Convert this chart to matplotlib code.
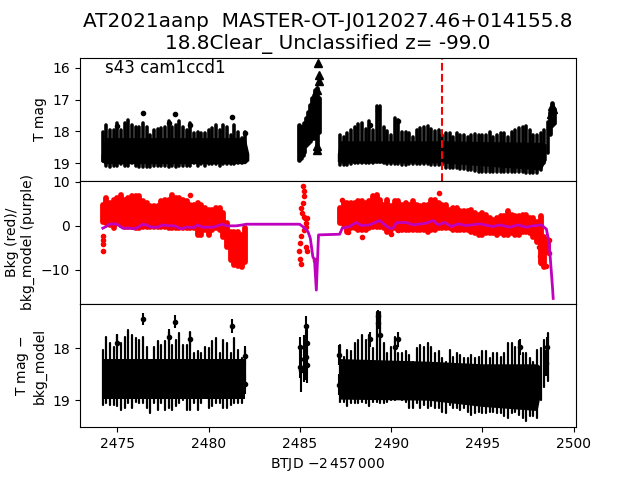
import matplotlib
matplotlib.use('Agg')
import matplotlib.pyplot as plt

# times of the three observing stretches (BTJD - 2457000)
t_a = [2474.2, 2474.4, 2474.6, 2474.8, 2475.0, 2475.2, 2475.4, 2475.6, 2475.8, 2476.0,
       2476.2, 2476.4, 2476.6, 2476.8, 2477.0, 2477.2, 2477.4, 2477.6, 2477.8, 2478.0,
       2478.2, 2478.4, 2478.6, 2478.8, 2479.0, 2479.2, 2479.4, 2479.6, 2479.8, 2480.0,
       2480.2, 2480.4, 2480.6, 2480.8, 2481.0, 2481.2, 2481.4, 2481.6, 2481.8, 2482.0]
t_c = [2487.2, 2487.4, 2487.6, 2487.8, 2488.0, 2488.2, 2488.4, 2488.6, 2488.8, 2489.0,
       2489.2, 2489.4, 2489.6, 2489.8, 2490.0, 2490.2, 2490.4, 2490.6, 2490.8, 2491.0,
       2491.2, 2491.4, 2491.6, 2491.8, 2492.0, 2492.2, 2492.4, 2492.6, 2492.8, 2493.0,
       2493.2, 2493.4, 2493.6, 2493.8, 2494.0, 2494.2, 2494.4, 2494.6, 2494.8, 2495.0,
       2495.2, 2495.4, 2495.6, 2495.8, 2496.0, 2496.2, 2496.4, 2496.6, 2496.8, 2497.0,
       2497.2, 2497.4, 2497.6, 2497.8, 2498.0, 2498.2, 2498.4, 2498.6]

# top panel, T mag range per time
mag_a_top = [18.01, 17.80, 17.96, 17.96, 17.75, 17.96, 17.75, 17.64, 17.80, 17.85,
             17.85, 17.75, 17.85, 18.11, 17.96, 17.92, 17.90, 17.85, 17.69, 17.85,
             17.80, 17.69, 17.85, 17.96, 17.75, 18.06, 18.01, 18.06, 18.06, 17.96,
             17.90, 17.80, 17.96, 17.80, 17.85, 18.11, 17.80, 18.01, 18.22, 18.03]
mag_a_bot = [18.95, 19.08, 19.11, 19.08, 19.08, 19.04, 19.08, 19.08, 19.00, 19.08,
             19.13, 19.13, 19.13, 19.13, 19.08, 19.08, 19.08, 19.08, 19.13, 19.08,
             19.13, 19.08, 19.08, 19.08, 19.08, 19.00, 19.08, 19.04, 19.08, 19.04,
             19.04, 19.04, 19.08, 19.04, 19.04, 19.04, 19.04, 19.00, 19.00, 18.95]
core_a_t = [2474.1, 2474.3, 2482.0, 2482.2]
core_a_top = [18.75, 18.20, 18.20, 18.70]
core_a_bot = [18.95, 19.02, 19.02, 18.92]
t_b = [2484.95, 2485.05, 2485.15, 2485.25, 2485.35, 2485.45, 2485.55, 2485.65, 2485.75, 2485.85, 2485.95, 2486.05]
mag_b_top = [17.80, 17.85, 18.22, 17.75, 17.59, 17.38, 17.17, 16.96, 16.85, 16.69, 16.64, 16.96]
mag_b_bot = [18.90, 18.85, 18.74, 18.64, 18.43, 18.38, 18.32, 18.22, 18.22, 18.11, 18.64, 18.01]
mag_c_top = [18.11, 18.17, 18.06, 17.96, 17.85, 17.78, 17.75, 17.92, 17.69, 17.96,
             17.22, 17.22, 17.85, 18.00, 18.11, 17.59, 17.65, 18.01, 18.03, 18.06,
             18.17, 17.96, 17.90, 17.85, 17.83, 17.92, 18.00, 17.96, 18.11, 18.06,
             18.06, 18.17, 18.06, 18.11, 18.11, 18.17, 18.11, 18.09, 18.11, 18.11,
             18.11, 18.01, 18.17, 18.11, 18.06, 18.06, 18.17, 18.01, 17.96, 17.90,
             17.85, 17.82, 17.96, 18.11, 18.11, 18.06, 17.95, 17.70]
mag_c_bot = [19.06, 19.06, 19.06, 19.04, 19.01, 19.01, 19.01, 19.01, 19.01, 18.99,
             18.98, 18.98, 19.01, 19.02, 19.04, 19.04, 19.04, 19.06, 19.06, 19.04,
             19.04, 19.04, 19.04, 19.04, 19.04, 19.06, 19.06, 19.06, 19.06, 19.17,
             19.17, 19.17, 19.17, 19.19, 19.19, 19.22, 19.22, 19.25, 19.27, 19.27,
             19.27, 19.27, 19.27, 19.27, 19.27, 19.27, 19.27, 19.27, 19.29, 19.29,
             19.29, 19.32, 19.32, 19.32, 19.32, 19.22, 19.01, 18.69]
core_c_t = [2487.05, 2487.2, 2492.8, 2498.2, 2498.5]
core_c_top = [18.70, 18.30, 18.30, 18.35, 18.40]
core_c_bot = [18.95, 19.00, 19.00, 19.22, 18.90]
t_rise = [2498.7, 2498.8, 2498.9]
mag_rise_top = [17.40, 17.10, 17.30]
mag_rise_bot = [18.10, 17.80, 17.75]
dot_t = [2476.39, 2478.14, 2477.80, 2481.27, 2479.00, 2474.96, 2481.97, 2488.82, 2489.30, 2490.38]
dot_mag = [17.43, 17.46, 17.75, 17.55, 17.80, 17.82, 18.06, 17.80, 17.32, 17.69]
tri_t = [2485.99, 2486.05, 2486.05, 2485.95, 2485.93, 2485.93, 2498.80, 2498.85, 2498.75]
tri_mag = [15.85, 16.22, 16.43, 16.70, 18.59, 18.45, 17.20, 17.30, 17.45]
nova_t = 2492.77

# middle panel, background range per time
bkg_a_top = [4.77, 6.28, 5.15, 5.90, 6.28, 7.04, 5.90, 6.28, 6.66, 6.66,
             6.66, 5.53, 5.15, 4.39, 4.39, 4.39, 5.53, 5.90, 5.90, 7.04,
             6.28, 6.28, 5.90, 5.53, 4.77, 4.77, 5.15, 4.77, 4.01, 3.63,
             3.63, 4.01, 4.01, 2.87, 0.60, -1.29, -1.29, -1.29, -2.05, -0.53]
bkg_a_bot = [0.98, 0.60, 0.22, -0.53, 0.60, 0.22, -0.16, -0.16, -0.16, -0.53,
             -0.53, -0.16, -0.16, -0.16, -0.16, -0.16, -0.16, -0.16, -0.53, -0.53,
             -0.53, -0.53, -0.53, -0.53, -0.53, -0.53, -2.05, -2.05, -0.91, -2.05,
             -0.91, -0.53, -0.91, -2.43, -4.70, -7.73, -8.87, -9.10, -9.40, -8.10]
bkg_c_top = [4.01, 5.15, 5.15, 5.15, 5.15, 5.53, 5.53, 5.15, 5.53, 6.66,
             7.04, 5.90, 4.77, 5.90, 4.39, 5.53, 5.53, 4.77, 5.15, 4.77,
             5.53, 4.77, 4.39, 4.77, 4.77, 5.90, 5.90, 5.15, 4.77, 4.77,
             3.63, 4.01, 4.01, 3.25, 3.25, 3.25, 3.63, 2.87, 2.50, 2.87,
             2.50, 1.74, 1.36, 1.74, 2.12, 2.12, 3.25, 2.50, 2.12, 2.12,
             2.50, 2.50, 1.74, 1.74, 0.98, 2.12, -2.43, -3.19]
bkg_c_bot = [0.60, 0.22, -1.29, -0.53, -0.53, -0.91, -0.91, -0.91, -0.53, -0.16,
             -0.16, -0.16, -0.53, -1.29, -0.91, -0.53, -0.91, -0.91, -0.91, -0.91,
             -0.91, -0.91, -0.91, -0.91, -1.29, -0.91, -0.91, -0.53, -0.53, -0.53,
             -0.53, -0.91, -0.91, -0.91, -0.91, -0.91, -1.29, -1.67, -2.05, -2.05,
             -1.67, -1.67, -1.67, -2.05, -1.67, -2.05, -2.05, -1.67, -2.05, -2.05,
             -1.29, -1.29, -1.67, -2.43, -3.57, -8.49, -9.25, -5.84]
bkg_dot_t = [2474.2, 2474.2, 2474.2, 2474.2, 2478.97, 2485.16, 2485.25, 2485.20, 2485.16, 2485.07,
             2485.13, 2485.20, 2485.30, 2485.39, 2485.35, 2485.35, 2485.25, 2485.07, 2484.98, 2485.35,
             2485.39, 2484.94, 2484.98, 2485.07, 2485.85, 2487.3, 2488.4, 2489.97, 2490.4, 2492.62,
             2487.65, 2498.1, 2498.15, 2498.2, 2498.5, 2498.65, 2498.65, 2498.5]
bkg_dot = [-2.4, -3.2, -4.0, -5.8, 7.0, 9.1, 8.0, 6.66, 5.15, 4.0,
           2.9, 2.1, 1.7, 1.7, 0.6, -0.15, -0.9, -2.4, -3.9, -4.7,
           -5.8, -5.8, -7.6, -8.6, -7.7, 5.9, -2.6, -1.85, -0.9, 7.4,
           -1.3, -4.85, -6.8, -8.5, -5.85, -3.3, -6.2, -9.1]
model_t = [2474.2, 2474.38, 2474.56, 2474.93, 2475.11, 2475.29, 2475.66, 2475.93, 2476.21, 2476.39,
           2476.57, 2476.85, 2477.21, 2477.49, 2477.85, 2478.13, 2478.49, 2478.77, 2479.22, 2479.35,
           2479.68, 2480.23, 2480.78, 2480.96, 2481.51, 2481.87, 2482.06, 2484.98, 2485.16, 2485.44,
           2485.57, 2485.71, 2485.8, 2485.9, 2486.02, 2487.18, 2487.32, 2487.72, 2488.09, 2488.37,
           2488.82, 2489.37, 2489.65, 2489.92, 2490.1, 2490.29, 2490.84, 2491.2, 2491.93, 2492.3,
           2492.57, 2492.94, 2493.3, 2493.67, 2494.12, 2494.85, 2495.58, 2495.95, 2496.5, 2496.95,
           2497.41, 2497.78, 2498.23, 2498.51, 2498.66, 2498.84, 2498.88]
model_bkg = [-0.53, -0.16, 0.37, 0.45, 0.0, -0.53, -0.53, -0.69, -0.16, 0.37,
             0.22, -0.31, -0.31, 0.22, 0.0, 0.0, -0.69, -0.31, -0.38, 0.22,
             -0.31, -0.31, 0.37, 0.0, 0.0, 0.22, 0.37, 0.37, -0.16, -1.29,
             -2.8, -7.0, -7.7, -14.55, -2.05, -1.9, -0.53, -0.16, 0.75, 0.07,
             0.22, 1.21, 0.22, -0.53, -0.53, 0.75, 0.75, 0.22, 0.6, 1.21,
             0.22, 0.75, -0.16, 0.45, 0.07, 0.45, -0.16, 0.22, -0.31, 0.22,
             -0.31, 0.0, 0.22, -0.76, -3.94, -13.8, -16.44]

# bottom panel, T mag - bkg_model range per time
sub_a_top = [18.03, 17.78, 17.90, 17.97, 17.74, 17.90, 17.78, 17.65, 17.74, 17.81,
             17.84, 17.78, 17.97, 18.26, 17.97, 17.87, 17.94, 17.87, 17.68, 17.94,
             17.84, 17.71, 17.94, 17.94, 17.68, 18.10, 18.06, 18.10, 17.97, 18.00,
             17.87, 17.81, 18.10, 17.84, 17.90, 18.10, 17.81, 18.03, 18.19, 18.03]
sub_a_bot = [19.09, 19.06, 19.09, 19.09, 19.12, 19.19, 19.15, 19.06, 19.15, 19.03,
             19.06, 19.06, 19.15, 19.25, 19.06, 19.19, 19.06, 19.19, 19.15, 19.19,
             19.12, 19.06, 18.99, 19.19, 19.19, 19.06, 19.19, 19.06, 18.96, 19.15,
             19.12, 19.06, 19.06, 19.15, 19.15, 19.09, 19.06, 19.06, 19.06, 18.74]
sub_core_a_t = [2474.2, 2482.0]
sub_core_a_top = [18.20, 18.20]
sub_core_a_bot = [18.98, 18.98]
sub_c_top = [17.94, 18.16, 18.03, 18.06, 17.90, 17.84, 17.74, 17.84, 17.74, 18.00,
             17.30, 17.30, 17.90, 18.10, 17.97, 17.78, 18.10, 18.10, 18.06, 18.13,
             18.26, 18.00, 17.94, 17.97, 17.90, 17.97, 18.10, 18.06, 18.19, 18.26,
             18.03, 18.16, 18.10, 18.13, 18.19, 18.19, 18.13, 18.19, 18.16, 18.06,
             18.06, 18.19, 18.10, 18.10, 18.16, 18.10, 17.90, 17.90, 17.97, 17.87,
             18.10, 18.10, 18.19, 18.26, 18.03, 18.00, 17.84, 17.71]
sub_c_bot = [19.03, 19.03, 19.12, 19.06, 19.06, 19.06, 19.03, 19.06, 19.12, 19.03,
             19.03, 19.06, 19.06, 19.03, 18.99, 18.99, 18.96, 18.99, 19.03, 19.15,
             19.15, 19.06, 19.15, 19.09, 19.15, 19.12, 19.15, 19.15, 19.22, 19.25,
             19.09, 19.15, 19.15, 19.19, 19.15, 19.22, 19.28, 19.25, 19.22, 19.25,
             19.25, 19.22, 19.22, 19.25, 19.25, 19.31, 19.35, 19.25, 19.22, 19.28,
             19.35, 19.41, 19.31, 19.31, 19.35, 18.99, 18.74, 18.64]
sub_core_c_t = [2487.2, 2492.0, 2495.0, 2498.0, 2498.2]
sub_core_c_top = [18.20, 18.25, 18.30, 18.30, 18.35]
sub_core_c_bot = [18.98, 19.00, 19.12, 19.20, 18.85]
sub_dot_t = [2476.39, 2478.14, 2477.82, 2481.27, 2474.96, 2479.00, 2481.97, 2481.97, 2484.98, 2484.98,
             2485.07, 2485.20, 2485.35, 2485.39, 2485.35, 2485.39, 2487.14, 2487.14, 2488.82, 2489.28,
             2489.30, 2489.37, 2490.38, 2490.20, 2498.55, 2498.51, 2497.05]
sub_dot = [17.44, 17.49, 17.78, 17.57, 17.90, 17.83, 18.15, 18.69, 17.97, 18.37,
           18.42, 18.20, 17.58, 17.90, 18.16, 18.32, 18.13, 18.70, 17.83, 17.39,
           17.52, 17.74, 17.83, 17.97, 17.98, 18.29, 17.98]
sub_dot_err = [0.12, 0.12, 0.14, 0.13, 0.17, 0.15, 0.20, 0.20, 0.19, 0.20,
               0.42, 0.45, 0.19, 0.30, 0.45, 0.35, 0.20, 0.20, 0.15, 0.12,
               0.12, 0.15, 0.15, 0.18, 0.20, 0.25, 0.15]


def draw_range(ax, t, top, bot, color, lw):
    ax.vlines(t, top, bot, colors=color, linewidth=lw, capstyle='round')


fig, (ax1, ax2, ax3) = plt.subplots(3, 1, sharex=True)
fig.subplots_adjust(hspace=0)
ax1.set_title('AT2021aanp  MASTER-OT-J012027.46+014155.8\n18.8Clear_ Unclassified z= -99.0',
              fontsize=14.4)

ax1.fill_between(core_a_t, core_a_top, core_a_bot, color='k', linewidth=0)
ax1.fill_between(core_c_t, core_c_top, core_c_bot, color='k', linewidth=0)
draw_range(ax1, t_a, mag_a_top, mag_a_bot, 'k', 2.6)
draw_range(ax1, t_b, mag_b_top, mag_b_bot, 'k', 3.4)
draw_range(ax1, t_c, mag_c_top, mag_c_bot, 'k', 2.6)
draw_range(ax1, t_rise, mag_rise_top, mag_rise_bot, 'k', 3.4)
ax1.plot(dot_t, dot_mag, 'k.')
ax1.plot(tri_t, tri_mag, 'k^', markersize=6)
ax1.axvline(nova_t, color='r', linestyle='--', linewidth=1.5)
ax1.set_ylim(19.56, 15.68)
ax1.set_yticks([16, 17, 18, 19])
ax1.set_ylabel('T mag')
ax1.text(2474.3, 16.0, 's43 cam1ccd1', fontsize=12, va='center')

draw_range(ax2, t_a, bkg_a_top, bkg_a_bot, 'r', 4.2)
draw_range(ax2, t_c, bkg_c_top, bkg_c_bot, 'r', 4.2)
ax2.plot(bkg_dot_t, bkg_dot, 'r.', clip_on=False)
ax2.plot(model_t, model_bkg, 'm-', linewidth=2)
ax2.set_ylim(-17.7, 10.2)
ax2.set_yticks([-10, 0, 10])
ax2.set_ylabel('Bkg (red)/\nbkg_model (purple)')

ax3.fill_between(sub_core_a_t, sub_core_a_top, sub_core_a_bot, color='k', linewidth=0)
ax3.fill_between(sub_core_c_t, sub_core_c_top, sub_core_c_bot, color='k', linewidth=0)
draw_range(ax3, t_a, sub_a_top, sub_a_bot, 'k', 1.6)
draw_range(ax3, t_c, sub_c_top, sub_c_bot, 'k', 1.6)
ax3.errorbar(sub_dot_t, sub_dot, yerr=sub_dot_err, fmt='k.')
ax3.set_ylim(19.52, 17.15)
ax3.set_yticks([18, 19])
ax3.set_ylabel('T mag $-$\nbkg_model')
ax3.set_xlim(2472.95, 2500.13)
ax3.set_xticks([2475, 2480, 2485, 2490, 2495, 2500])
ax3.set_xlabel(r'BTJD $-2\,457\,000$')

fig.savefig('out.png', dpi=100)
